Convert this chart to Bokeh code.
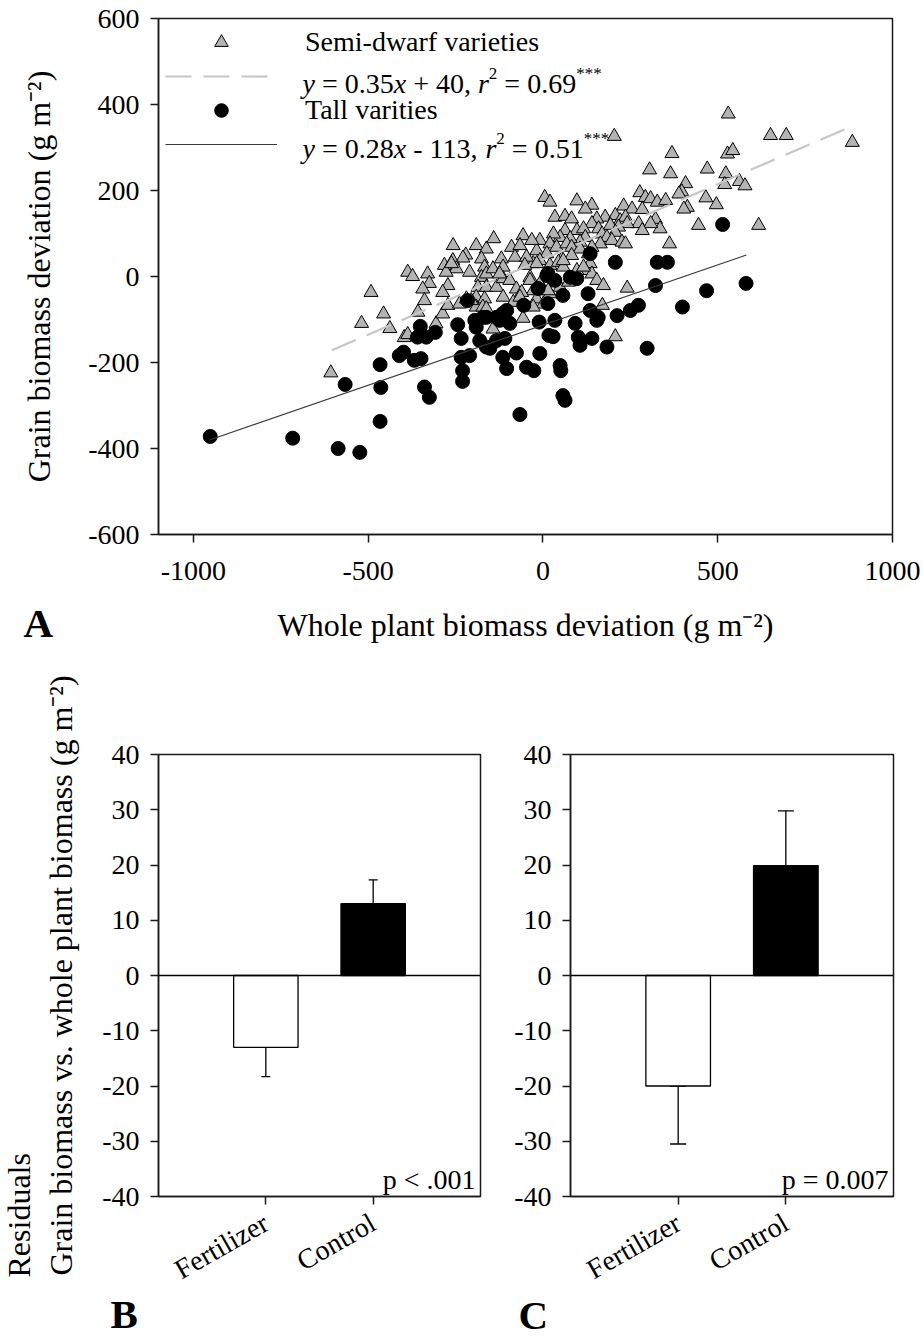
import math
from bokeh.plotting import figure
from bokeh.models import (Range1d, Label, Legend, LegendItem, Span, Whisker,
                          TeeHead, ColumnDataSource, FixedTicker)
from bokeh.layouts import column, row
from bokeh.embed import file_html
from bokeh.resources import INLINE

FONT = "Liberation Serif"

# ---------------- Panel A data ----------------
semi_x = [530, 651, 696, 885, 204, 369, 528, 543, 305, 365, 470, 523, 520, 562, 578,
          408, 397, 389, 277, 293, 308, 327, 351, 466, 496, 413, 403, 445, 617, 5,
          20, 97, 140, 121, 231, 255, 284, 322, 335, 362, 34, 63, 82, 178, 207,
          221, 154, 274, 308, 284, 236, 241, 193, 216, 207, 140, 159, 169, 183, 97,
          116, 121, 106, 63, 49, 78, 30, -9, 20, 39, 68, 82, 164, 197, 226,
          236, 106, 140, 130, -18, 11, 54, 82, -28, -9, 20, 44, 58, 135, 121,
          140, -37, -9, -28, 1, 20, 154, 173, 241, -18, 1, -28, 170, 207, -257,
          -221, -229, -191, -162, -141, -387, -373, -330, -325, -344, -282, -258, -248, -277, -210,
          -176, -167, -272, -287, -339, -176, -162, -143, -186, -162, -133, -119, -114, -90, -80,
          -57, -66, -47, -32, -18, -52, -492, -456, -438, -519, -607, -358, -306, -287, -272,
          -397, -387, -239, -219, -191, -167, -191, -172, -114, -95, -76, -61, -114, -57, -85,
          -205, -162, -66, -37, 49, 73, 58, 97, 116, -262, -124, 15, -143]
semi_y = [378, 328, 328, 312, 326, 286, 285, 293, 248, 239, 250, 239, 214, 221, 211,
          216, 197, 192, 195, 184, 181, 173, 177, 183, 167, 161, 157, 119, 119, 184,
          173, 176, 166, 157, 164, 157, 156, 133, 111, 76, 138, 140, 134, 138, 142,
          130, 134, 123, 123, 107, 138, 123, 119, 115, 103, 123, 111, 99, 91, 107,
          111, 91, 80, 107, 91, 88, 99, 84, 76, 68, 76, 68, 76, 84, 80,
          76, 64, 68, 53, 60, 53, 41, 49, 30, 37, 26, 33, 22, 30, 14,
          6, -2, -17, -33, -33, -40, -9, -21, -27, -52, -64, -71, -67, -140, 72,
          50, 43, 72, 64, 88, 10, 0, 6, -16, -29, 26, 37, 18, 10, 10,
          41, 22, -21, -37, -56, -2, 6, 18, -25, -25, -25, 41, 22, 68, 45,
          95, 72, 45, 84, 30, 26, -37, -87, -121, -109, -224, -83, -110, -87, -67,
          -142, -135, -64, -52, -48, -52, -71, -71, -5, -9, -29, -37, -48, -97, -60,
          -56, -75, -48, -9, -25, -13, 37, 14, 22, 30, 6, -33, -122]

tall_x = [-952, -716, -586, -524, -566, -466, -464, -466, -411, -399, -368, -349, -339, -325,
          -351, -359, -334, -308, -244, -234, -234, -210, -230, -230, -216, -191, -181, -162,
          -152, -133, -115, -109, -95, -104, -115, -104, -76, -66, -47, -26, -55, -11, -9,
          14, 11, 17, 34, 34, 29, 49, 51, 57, 63, 57, 78, 97, 92, 101, 106, 129, 135, 140,
          154, 183, 207, 212, 250, 273, 298, 135, 327, 356, 322, 399, 468, 514, 581, 158,
          -172, -124, -195, -162, -133, -14, 14]
tall_y = [-372, -376, -400, -409, -251, -205, -258, -337, -184, -176, -195, -191, -257, -281,
          -116, -141, -141, -130, -112, -144, -188, -184, -219, -244, -56, -118, -149, -95,
          -167, -95, -86, -144, -109, -79, -188, -214, -178, -321, -211, -219, -67, -106, -179,
          -63, 2, -137, -9, -102, -140, -207, -219, -277, -288, -44, -2, -5, -109, -141, -160,
          -40, -79, -144, -102, -164, 33, -91, -79, -67, -167, 53, 33, 33, -21, -71, -33, 121,
          -16, -95, -95, -102, -102, -164, -149, -28, 7]

# regression lines (from the legend equations) and their x extents
semi_slope, semi_intercept, semi_fit_x = 0.35, 40, [-604, 870]
tall_slope, tall_intercept, tall_fit_x = 0.28, -113, [-952, 582]

a_x_ticks = [-1000, -500, 0, 500, 1000]
a_x_labels = ["-1000", "-500", "0", "500", "1000"]
a_y_ticks = [-600, -400, -200, 0, 200, 400, 600]
a_y_labels = ["-600", "-400", "-200", "0", "200", "400", "600"]

# ---------------- Panels B / C data ----------------
bar_categories = ["Fertilizer", "Control"]
bar_positions = [1, 2]
bar_colors = ["white", "black"]
b_means = [-13.0, 13.0]
b_errors = [5.3, 4.3]
c_means = [-20.0, 19.9]
c_errors = [10.5, 9.9]
bc_y_ticks = [-40, -30, -20, -10, 0, 10, 20, 30, 40]
bc_y_labels = ["-40", "-30", "-20", "-10", "0", "10", "20", "30", "40"]

AX = "#1a1a1a"


def style(p):
    p.xgrid.visible = False
    p.ygrid.visible = False
    p.outline_line_color = AX
    p.outline_line_width = 1.5
    p.background_fill_color = "white"
    p.border_fill_color = "white"
    for ax in p.axis:
        ax.axis_line_color = AX
        ax.axis_line_width = 1.5
        ax.major_tick_line_color = AX
        ax.major_tick_line_width = 1.5
        ax.major_tick_out = 8
        ax.major_tick_in = 0
        ax.minor_tick_line_color = None
        ax.major_label_text_font = FONT
        ax.major_label_text_font_size = "28px"
        ax.major_label_text_color = "black"
        ax.axis_label_text_font = FONT
        ax.axis_label_text_font_style = "normal"
        ax.axis_label_text_color = "black"
        ax.axis_label_text_font_size = "32px"


def side_label(p, side, text, x, y, size, bold=False, angle=0.0, align="left",
               baseline="alphabetic"):
    # labels placed in a side panel are not clipped to the data frame
    p.add_layout(Label(x=x, y=y, x_units="screen", y_units="screen", text=text,
                       angle=angle, text_font=FONT, text_font_size=f"{size}px",
                       text_font_style="bold" if bold else "normal",
                       text_align=align, text_baseline=baseline, text_color="black"), side)


# Times-compatible advance widths (em) for rich legend text
WID = {' ': 0.25, '=': 0.564, '+': 0.564, '-': 0.333, ',': 0.25, '.': 0.25, '*': 0.5,
       'x': 0.444, 'y': 0.444, 'r': 0.389}
for d in "0123456789":
    WID[d] = 0.5


def rich(p, x0, y0, pieces):
    x = x0
    for text, italic, size, rise in pieces:
        lead = len(text) - len(text.lstrip(' '))
        s = text.strip(' ')
        if s:
            p.add_layout(Label(x=x + lead * 0.25 * size, y=y0 + rise, x_units="screen",
                               y_units="screen", text=s, text_font=FONT,
                               text_font_size=f"{size}px",
                               text_font_style="italic" if italic else "normal",
                               text_baseline="alphabetic", text_align="left",
                               text_color="black"))
        x += sum(WID[c] for c in text) * size


# ---------------- Panel A ----------------
pA = figure(width=923, height=655, x_range=Range1d(-1100, 1000), y_range=Range1d(-600, 600),
            output_backend="svg", toolbar_location=None, title=None,
            min_border_left=158, min_border_right=31, min_border_top=18, min_border_bottom=121,
            x_axis_label="Whole plant biomass deviation (g m\u207b\u00b2)",
            y_axis_label="Grain biomass deviation (g m\u207b\u00b2)")
style(pA)
pA.xaxis.ticker = FixedTicker(ticks=a_x_ticks)
pA.xaxis.major_label_overrides = dict(zip(a_x_ticks, a_x_labels))
pA.yaxis.ticker = FixedTicker(ticks=a_y_ticks)
pA.yaxis.major_label_overrides = dict(zip(a_y_ticks, a_y_labels))
pA.xaxis.major_label_standoff = 19
pA.xaxis.axis_label_standoff = 24
pA.yaxis.major_label_standoff = 11
pA.yaxis.axis_label_standoff = 28

r_semi = pA.scatter(semi_x, semi_y, marker="triangle", size=14, fill_color="#b3b3b3",
                    line_color="black", line_width=1)
r_tall = pA.scatter(tall_x, tall_y, marker="circle", size=14, fill_color="black",
                    line_color="black", line_width=1)
r_fs = pA.line(semi_fit_x, [semi_slope * v + semi_intercept for v in semi_fit_x],
               line_color="#c6c6c6", line_width=2.2, line_dash="26 12")
r_ft = pA.line(tall_fit_x, [tall_slope * v + tall_intercept for v in tall_fit_x],
               line_color="#3a3a3a", line_width=1.2)

legend = Legend(items=[LegendItem(label="Semi-dwarf varieties", renderers=[r_semi]),
                       LegendItem(label=" ", renderers=[r_fs]),
                       LegendItem(label="Tall varities", renderers=[r_tall]),
                       LegendItem(label=" ", renderers=[r_ft])],
                location="top_left", glyph_width=112, glyph_height=34, label_standoff=28,
                spacing=0, padding=7, margin=0, background_fill_alpha=0,
                border_line_alpha=0, label_text_font=FONT, label_text_font_size="28px",
                label_text_color="black", label_height=34)
pA.add_layout(legend)

FH = 516  # frame height of panel A in px
rich(pA, 144, FH - 65.3, [("y", True, 28, 0), (" = 0.35", False, 28, 0), ("x", True, 28, 0),
                          (" + 40, ", False, 28, 0), ("r", True, 28, 0), ("2", False, 17, 10),
                          (" = 0.69", False, 28, 0), ("***", False, 17, 10)])
rich(pA, 144, FH - 130.3, [("y", True, 28, 0), (" = 0.28", False, 28, 0), ("x", True, 28, 0),
                           (" - 113, ", False, 28, 0), ("r", True, 28, 0), ("2", False, 17, 10),
                           (" = 0.51", False, 28, 0), ("***", False, 17, 10)])

# panel letter "A" lives in the (empty) right side panel: x is relative to the frame's right edge
side_label(pA, "right", "A", -869, -88, 41, bold=True)


# ---------------- Panels B and C ----------------
def bar_panel(means, errors, cap, ptext, width, left, right, ylabel):
    ends = [m + (e if m >= 0 else -e) for m, e in zip(means, errors)]
    src = ColumnDataSource(dict(x=bar_positions, top=means, color=bar_colors,
                                lower=[min(m, e) for m, e in zip(means, ends)],
                                upper=[max(m, e) for m, e in zip(means, ends)]))
    p = figure(width=width, height=684, x_range=Range1d(0, 3), y_range=Range1d(-40, 40),
               output_backend="svg", toolbar_location=None, title=None,
               min_border_left=left, min_border_right=right, min_border_top=99,
               min_border_bottom=143, y_axis_label=ylabel)
    style(p)
    p.add_layout(Whisker(base="x", lower="lower", upper="upper", source=src,
                         dimension="height", line_color="black", line_width=1.3,
                         upper_head=TeeHead(size=cap, line_color="black", line_width=1.3),
                         lower_head=TeeHead(size=cap, line_color="black", line_width=1.3)))
    p.vbar(x="x", top="top", bottom=0, width=0.6, fill_color="color", line_color="black",
           line_width=1.3, source=src)
    p.add_layout(Span(location=0, dimension="width", line_color="black", line_width=1.3))
    p.xaxis.ticker = FixedTicker(ticks=bar_positions)
    p.xaxis.major_label_overrides = dict(zip(bar_positions, bar_categories))
    p.xaxis.major_label_orientation = 0.52
    p.xaxis.major_label_standoff = 16
    p.yaxis.ticker = FixedTicker(ticks=bc_y_ticks)
    p.yaxis.major_label_overrides = dict(zip(bc_y_ticks, bc_y_labels))
    p.yaxis.major_label_standoff = 11
    p.yaxis.axis_label_standoff = 20
    fw = width - left - right
    p.add_layout(Label(x=fw - 5, y=17, x_units="screen", y_units="screen", text=ptext,
                       text_font=FONT, text_font_size="28px", text_align="right",
                       text_baseline="alphabetic", text_color="black"))
    return p


pB = bar_panel(b_means, b_errors, 9, "p < .001", 500, 158, 20,
               "Grain biomass vs. whole plant biomass (g m\u207b\u00b2)")
# second title line, in the left side panel (outside the y axis)
side_label(pB, "left", "Residuals", 14, -81, 32, angle=math.pi / 2, align="left",
           baseline="middle")
# panel letters in the top side panels
side_label(pB, "above", "B", -48, -559, 41, bold=True)

pC = bar_panel(c_means, c_errors, 16, "p = 0.007", 423, 70, 30, None)
side_label(pC, "above", "C", -52, -560, 41, bold=True)

layout = column(pA, row(pB, pC, spacing=0), spacing=0)
open("out.html", "w").write(file_html(layout, INLINE))
